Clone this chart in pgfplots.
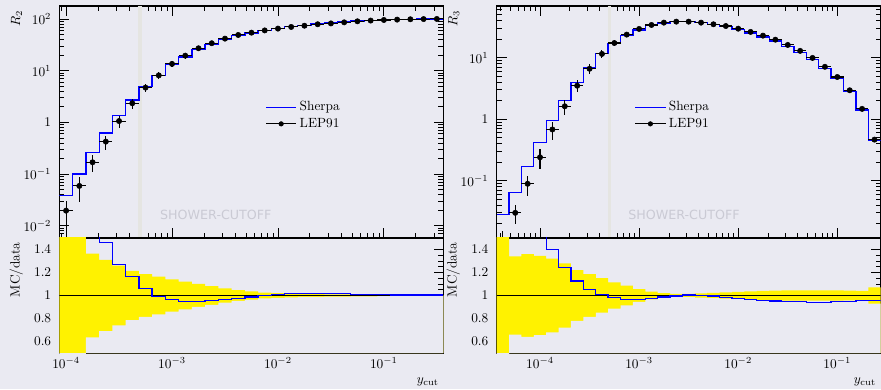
\documentclass[border=0pt]{standalone}
\usepackage{fontspec}
\newfontfamily\dejavu{DejaVu Sans}
\usepackage{pgfplots}
\pgfplotsset{compat=1.18}
\usepackage{pgfplotstable}
\definecolor{bg}{RGB}{234,234,242}
\definecolor{cutline}{RGB}{229,229,226}
\definecolor{cuttext}{RGB}{202,202,212}

% R2: le = left bin edge, x = bin centre, data, err = relative data error, mc = Sherpa, ratio = MC/data
\pgfplotstableread{
le x data err mc ratio
8.65964e-5 1e-4 0.0196 0.55 0.039 1.99
1.15478e-4 1.33352e-4 0.059 0.52 0.100 1.69
1.53993e-4 1.77828e-4 0.169 0.365 0.26 1.54
2.05353e-4 2.37137e-4 0.424 0.31 0.62 1.46
2.73842e-4 3.16228e-4 1.06 0.26 1.34 1.267
3.65174e-4 4.21697e-4 2.34 0.215 2.72 1.164
4.86968e-4 5.62341e-4 4.7 0.185 4.97 1.058
6.49382e-4 7.49894e-4 8.1 0.165 8.05 0.994
8.65964e-4 1e-3 13.5 0.14 13.0 0.965
1.15478e-3 1.33352e-3 19.5 0.12 18.5 0.947
1.53993e-3 1.77828e-3 27.1 0.10 25.7 0.947
2.05353e-3 2.37137e-3 33.9 0.082 32.4 0.956
2.73842e-3 3.16228e-3 41.6 0.062 40.1 0.965
3.65174e-3 4.21697e-3 49 0.047 47.8 0.975
4.86968e-3 5.62341e-3 54.3 0.035 53.6 0.988
6.49382e-3 7.49894e-3 60 0.026 60 1.0
8.65964e-3 1e-2 65 0.020 65.7 1.01
1.15478e-2 1.33352e-2 70 0.016 71.0 1.015
1.53993e-2 1.77828e-2 74 0.013 75.5 1.02
2.05353e-2 2.37137e-2 79 0.011 80.6 1.02
2.73842e-2 3.16228e-2 82 0.010 83.6 1.02
3.65174e-2 4.21697e-2 86 0.009 87.3 1.015
4.86968e-2 5.62341e-2 90 0.008 90.9 1.01
6.49382e-2 7.49894e-2 93 0.007 93.7 1.008
8.65964e-2 1e-1 95.5 0.006 96.1 1.006
1.15478e-1 1.33352e-1 97 0.005 97.4 1.004
1.53993e-1 1.77828e-1 98.6 0.005 98.8 1.003
2.05353e-1 2.37137e-1 99.5 0.004 99.6 1.003
2.73842e-1 3.16228e-1 100 0.003 100 1.003
3.65174e-1 nan nan 0.003 100 1.003
}\rtwo

% R3
\pgfplotstableread{
le x data err mc ratio
3.65174e-5 4.21697e-5 0.008 0.9 0.028 3.5
4.86968e-5 5.62341e-5 0.030 0.34 0.065 2.17
6.49382e-5 7.49894e-5 0.089 0.36 0.169 1.9
8.65964e-5 1e-4 0.24 0.345 0.415 1.73
1.15478e-4 1.33352e-4 0.68 0.32 0.95 1.40
1.53993e-4 1.77828e-4 1.62 0.28 2.02 1.243
2.05353e-4 2.37137e-4 3.5 0.22 3.95 1.126
2.73842e-4 3.16228e-4 6.6 0.185 6.95 1.053
3.65174e-4 4.21697e-4 11.5 0.15 11.6 1.009
4.86968e-4 5.62341e-4 17.3 0.115 16.95 0.98
6.49382e-4 7.49894e-4 23.7 0.085 22.9 0.968
8.65964e-4 1e-3 29.3 0.055 28.3 0.965
1.15478e-3 1.33352e-3 34 0.033 33.1 0.973
1.53993e-3 1.77828e-3 37.1 0.02 36.7 0.988
2.05353e-3 2.37137e-3 38.5 0.015 38.4 0.997
2.73842e-3 3.16228e-3 38.5 0.015 38.6 1.003
3.65174e-3 4.21697e-3 37.1 0.018 37.1 1.0
4.86968e-3 5.62341e-3 34.9 0.022 34.7 0.995
6.49382e-3 7.49894e-3 32.7 0.027 32.2 0.985
8.65964e-3 1e-2 29.6 0.032 28.8 0.973
1.15478e-2 1.33352e-2 26.2 0.036 25.3 0.965
1.53993e-2 1.77828e-2 22.8 0.04 21.8 0.956
2.05353e-2 2.37137e-2 19.6 0.042 18.7 0.953
2.73842e-2 3.16228e-2 16.1 0.044 15.2 0.947
3.65174e-2 4.21697e-2 12.9 0.045 12.2 0.945
4.86968e-2 5.62341e-2 9.9 0.045 9.31 0.94
6.49382e-2 7.49894e-2 7.1 0.045 6.67 0.94
8.65964e-2 1e-1 4.85 0.045 4.58 0.945
1.15478e-1 1.33352e-1 2.95 0.042 2.80 0.95
1.53993e-1 1.77828e-1 1.47 0.04 1.41 0.956
2.05353e-1 2.37137e-1 0.465 0.07 0.445 0.958
2.73842e-1 nan nan 0.07 0.445 0.958
}\rthree

\pgfplotsset{
  every axis/.append style={
    scale only axis, width=288pt,
    axis line style={line width=0.8pt, black},
    every tick/.style={black, line width=0.6pt},
    major tick length=7.5pt, minor tick length=3.75pt,
    tick align=inside,
    yticklabel style={xshift=-2.7pt},
  },
}

\begin{document}
\begin{tikzpicture}
\fill[bg] (0,0) rectangle (660.75pt,291.75pt);
\useasboundingbox (0,0) rectangle (660.75pt,291.75pt);

% ---------- left main (R2)
\begin{axis}[at={(44.6pt,113.25pt)}, anchor=south west,
  height=174pt, xmode=log, ymode=log, xticklabel=\empty,
  xtick pos=both, ytick pos=both,
  xmin=8.65964e-5, xmax=3.65174e-1, ymin=0.0058, ymax=178,
  ytick={0.01,0.1,1,10,100},
  yticklabels={$10^{-2}$,$10^{-1}$,$1$,$10^{1}$,$10^{2}$},
  minor ytick={0.006,0.007,0.008,0.009,0.02,0.03,0.04,0.05,0.06,0.07,0.08,0.09,0.2,0.3,0.4,0.5,0.6,0.7,0.8,0.9,2,3,4,5,6,7,8,9,20,30,40,50,60,70,80,90},
  ylabel={$R_2$},
  ylabel style={at={(axis description cs:-0.1024,1)}, anchor=base east},
  legend style={draw=none, fill=none, anchor=west, cells={anchor=west}, at={(axis description cs:0.525,0.528)}},
]
\addlegendimage{legend image code/.code={\draw[blue, line width=1pt] (0cm,0cm) -- (0.8cm,0cm);}}
\addlegendentry{Sherpa}
\addlegendimage{legend image code/.code={\draw[black, line width=0.8pt] (0cm,0cm) -- (0.8cm,0cm); \fill[black] (0.4cm,0cm) circle (1.7pt);}}
\addlegendentry{LEP91}
\draw[cutline, line width=2.6pt] (axis cs:5e-4,0.0058) -- (axis cs:5e-4,178);
\node[anchor=base west, text=cuttext, font=\dejavu\fontsize{9.5pt}{11pt}\selectfont] at (axis cs:5e-4,0.0058) [xshift=11.5pt, yshift=13.5pt] {SHOWER-CUTOFF};
\addplot[forget plot, blue, line width=1pt, const plot] table[x=le, y=mc] {\rtwo};
\addplot[forget plot, black, only marks, mark=*, mark size=2pt,
  error bars/.cd, x dir=both, x explicit relative, y dir=both, y explicit relative,
  error bar style={line width=0.8pt, black}, error mark=none]
  table[x=x, y=data, x error plus expr=0.15478, x error minus expr=0.13404, y error=err] {\rtwo};
\end{axis}

% ---------- left ratio
\begin{axis}[at={(44.6pt,27pt)}, anchor=south west,
  height=86.25pt, xmode=log, ymin=0.5, ymax=1.5,
  xmin=8.65964e-5, xmax=3.65174e-1,
  ytick={0.6,0.8,1,1.2,1.4}, minor y tick num=3,
  xtick pos=left, ytick pos=both,
  ylabel={MC/data}, xlabel={$y_{\mathrm{cut}}$},
  ylabel style={at={(axis description cs:-0.104,1)}, anchor=base east},
  xlabel style={at={(axis description cs:1,-0.267)}, anchor=base east},
]
\addplot[forget plot, ybar interval, fill=yellow, draw=none] table[x=le, y expr=1+\thisrow{err}] {\rtwo};
\addplot[forget plot, ybar interval, fill=bg, draw=none] table[x=le, y expr=1-\thisrow{err}] {\rtwo};
\addplot[forget plot, black, line width=0.7pt] coordinates {(8.65964e-5,1) (3.65174e-1,1)};
\addplot[forget plot, blue, line width=1pt, const plot] table[x=le, y=ratio] {\rtwo};
\end{axis}

% ---------- right main (R3)
\begin{axis}[at={(372.5pt,113.25pt)}, anchor=south west,
  height=174pt, xmode=log, ymode=log, xticklabel=\empty,
  xtick pos=both, ytick pos=both,
  xmin=3.65174e-5, xmax=2.73842e-1, ymin=0.0117, ymax=69.2,
  ytick={0.1,1,10},
  yticklabels={$10^{-1}$,$1$,$10^{1}$},
  minor ytick={0.02,0.03,0.04,0.05,0.06,0.07,0.08,0.09,0.2,0.3,0.4,0.5,0.6,0.7,0.8,0.9,2,3,4,5,6,7,8,9,20,30,40,50,60},
  ylabel={$R_3$},
  ylabel style={at={(axis description cs:-0.1024,1)}, anchor=base east},
  legend style={draw=none, fill=none, anchor=west, cells={anchor=west}, at={(axis description cs:0.348,0.528)}},
]
\addlegendimage{legend image code/.code={\draw[blue, line width=1pt] (0cm,0cm) -- (0.8cm,0cm);}}
\addlegendentry{Sherpa}
\addlegendimage{legend image code/.code={\draw[black, line width=0.8pt] (0cm,0cm) -- (0.8cm,0cm); \fill[black] (0.4cm,0cm) circle (1.7pt);}}
\addlegendentry{LEP91}
\draw[cutline, line width=2.6pt] (axis cs:5e-4,0.0117) -- (axis cs:5e-4,69.2);
\node[anchor=base west, text=cuttext, font=\dejavu\fontsize{9.5pt}{11pt}\selectfont] at (axis cs:5e-4,0.0117) [xshift=10.7pt, yshift=13.5pt] {SHOWER-CUTOFF};
\addplot[forget plot, blue, line width=1pt, const plot] table[x=le, y=mc] {\rthree};
\addplot[forget plot, black, only marks, mark=*, mark size=2pt,
  error bars/.cd, x dir=both, x explicit relative, y dir=both, y explicit relative,
  error bar style={line width=0.8pt, black}, error mark=none]
  table[x=x, y=data, x error plus expr=0.15478, x error minus expr=0.13404, y error=err] {\rthree};
\end{axis}

% ---------- right ratio
\begin{axis}[at={(372.5pt,27pt)}, anchor=south west,
  height=86.25pt, xmode=log, ymin=0.5, ymax=1.5,
  xmin=3.65174e-5, xmax=2.73842e-1,
  ytick={0.6,0.8,1,1.2,1.4}, minor y tick num=3,
  xtick pos=left, ytick pos=both,
  ylabel={MC/data}, xlabel={$y_{\mathrm{cut}}$},
  ylabel style={at={(axis description cs:-0.104,1)}, anchor=base east},
  xlabel style={at={(axis description cs:1,-0.267)}, anchor=base east},
]
\addplot[forget plot, ybar interval, fill=yellow, draw=none] table[x=le, y expr=1+\thisrow{err}] {\rthree};
\addplot[forget plot, ybar interval, fill=bg, draw=none] table[x=le, y expr=1-\thisrow{err}] {\rthree};
\addplot[forget plot, black, line width=0.7pt] coordinates {(3.65174e-5,1) (2.73842e-1,1)};
\addplot[forget plot, blue, line width=1pt, const plot] table[x=le, y=ratio] {\rthree};
\end{axis}
\end{tikzpicture}
\end{document}
